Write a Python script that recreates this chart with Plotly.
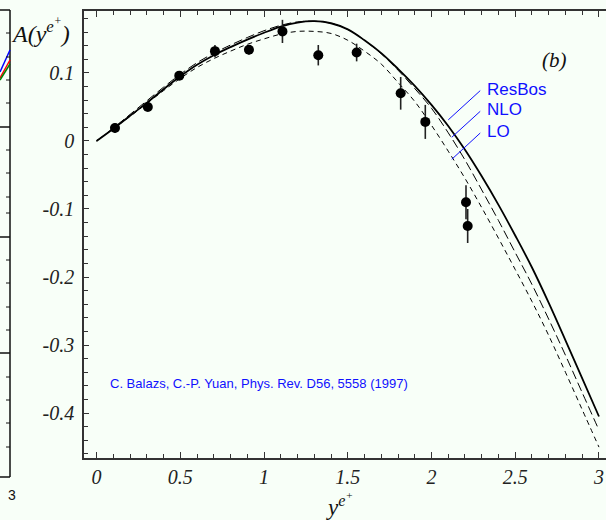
import plotly.graph_objects as go

# ---- data ----
y_grid = [0.0, 0.1, 0.2, 0.3, 0.4, 0.5, 0.6, 0.7, 0.8, 0.9, 1.0,
          1.1, 1.2, 1.3, 1.4, 1.5, 1.6, 1.7, 1.8, 1.9, 2.0,
          2.1, 2.2, 2.3, 2.4, 2.5, 2.6, 2.7, 2.8, 2.9, 3.0]

resbos = [0.000, 0.018, 0.037, 0.056, 0.076, 0.095, 0.112, 0.126, 0.138, 0.149, 0.159,
          0.168, 0.174, 0.176, 0.173, 0.164, 0.148, 0.129, 0.106, 0.081, 0.053,
          0.022, -0.013, -0.052, -0.094, -0.139, -0.186, -0.238, -0.293, -0.349, -0.405]

nlo = [0.000, 0.019, 0.039, 0.059, 0.079, 0.098, 0.115, 0.129, 0.141, 0.152, 0.162,
       0.170, 0.175, 0.176, 0.173, 0.164, 0.148, 0.128, 0.104, 0.077, 0.048,
       0.012, -0.028, -0.072, -0.117, -0.164, -0.211, -0.262, -0.315, -0.370, -0.425]

lo = [0.000, 0.018, 0.036, 0.055, 0.074, 0.092, 0.108, 0.121, 0.132, 0.142, 0.150,
      0.157, 0.161, 0.161, 0.158, 0.148, 0.132, 0.113, 0.086, 0.058, 0.023,
      -0.015, -0.055, -0.098, -0.143, -0.189, -0.236, -0.286, -0.340, -0.395, -0.450]

# CDF data points
data_y = [0.110, 0.306, 0.494, 0.707, 0.910, 1.110, 1.324, 1.553, 1.816, 1.963, 2.206, 2.216]
data_a = [0.019, 0.050, 0.096, 0.132, 0.134, 0.161, 0.126, 0.130, 0.070, 0.028, -0.090, -0.125]
data_err = [0.007, 0.006, 0.006, 0.009, 0.007, 0.017, 0.015, 0.013, 0.024, 0.025, 0.025, 0.025]

x_ticks = [0, 0.5, 1, 1.5, 2, 2.5, 3]
x_ticktext = ["0", "0.5", "1", "1.5", "2", "2.5", "3"]
y_ticks = [0.1, 0, -0.1, -0.2, -0.3, -0.4]
y_ticktext = ["0.1", "0", "-0.1", "-0.2", "-0.3", "-0.4"]

BG = "#f8fff8"
SERIF = "Liberation Serif, Times New Roman, serif"
SANS = "Liberation Sans, Arial, sans-serif"
BLUE = "#1010ff"

fig = go.Figure()

fig.add_trace(go.Scatter(x=y_grid, y=lo, mode="lines", line_shape="spline",
                         line=dict(color="black", width=1, dash="5px,4px"), name="LO"))
fig.add_trace(go.Scatter(x=y_grid, y=nlo, mode="lines", line_shape="spline",
                         line=dict(color="black", width=1, dash="9px,4px"), name="NLO"))
fig.add_trace(go.Scatter(x=y_grid, y=resbos, mode="lines", line_shape="spline",
                         line=dict(color="black", width=1.8), name="ResBos"))
fig.add_trace(go.Scatter(
    x=data_y, y=data_a, mode="markers",
    marker=dict(color="black", size=10),
    error_y=dict(type="data", array=data_err, color="#222", thickness=1.6, width=0),
    name="CDF"))

axis_common = dict(showgrid=False, zeroline=False, showline=True, linecolor="#333",
                   linewidth=1.5, ticks="inside", tickcolor="#333",
                   tickfont=dict(family=SERIF, size=20, color="#222", style="italic"))

fig.update_xaxes(range=[-0.075, 3.042], tickvals=x_ticks, ticktext=x_ticktext,
                 ticklen=6, mirror="allticks",
                 minor=dict(dtick=0.1, ticks="inside", ticklen=4, tickcolor="#333"),
                 **axis_common)
fig.update_yaxes(range=[-0.466, 0.191], tickvals=y_ticks, ticktext=y_ticktext,
                 ticklen=5, ticklabelstandoff=4,
                 minor=dict(dtick=0.02, ticks="inside", ticklen=4, tickcolor="#333"),
                 **axis_common)

# labels with leader lines to the curves
labels = [("ResBos", 2.300, 0.076, 2.100, 0.031),
          ("NLO", 2.300, 0.0456, 2.121, 0.0054),
          ("LO", 2.300, 0.0137, 2.121, -0.027)]
for txt, tx, ty, hx, hy in labels:
    fig.add_annotation(x=hx, y=hy, ax=tx, ay=ty, axref="x", ayref="y",
                       text="", showarrow=True, arrowhead=0, arrowwidth=1, arrowcolor=BLUE)
    fig.add_annotation(x=tx + 0.02, y=ty, text=txt, showarrow=False, xanchor="left",
                       yanchor="middle", font=dict(family=SANS, size=17, color=BLUE))

fig.add_annotation(x=2.737, y=0.119, text="(b)", showarrow=False,
                   font=dict(family=SERIF, size=21, color="#111", style="italic"))
fig.add_annotation(x=0.069, y=-0.356, xanchor="left", showarrow=False,
                   text="C. Balazs, C.-P. Yuan, Phys. Rev. D56, 5558 (1997)",
                   font=dict(family=SANS, size=13, color=BLUE))

# axis titles
fig.add_annotation(xref="paper", yref="paper", x=-0.143, y=0.955, xanchor="left",
                   yanchor="middle", showarrow=False,
                   text="A(y<sup>e<sup>+</sup></sup>)",
                   font=dict(family=SERIF, size=24, color="#111", style="italic"))
fig.add_annotation(xref="paper", yref="paper", x=0.49, y=-0.105, showarrow=False,
                   yanchor="middle", text="y<sup>e<sup>+</sup></sup>",
                   font=dict(family=SERIF, size=23, color="#111", style="italic"))

# remnants of the neighbouring panel on the left edge
def px_x(p):
    return (p - 84) / 522

def px_y(p):
    return (458 - p) / 447

left_shapes = [
    (10, 10, 10, 477, "#111"),
    (0, 10, 10, 10, "#111"), (0, 127, 10, 127, "#111"), (0, 237, 10, 237, "#111"),
    (0, 353, 10, 353, "#111"), (0, 477, 10, 477, "#111"),
    (0, 72, 10, 50, "blue"), (0, 78, 10, 60, "red"), (0, 80, 10, 64, "green"),
]
for x0, y0, x1, y1, c in left_shapes:
    fig.add_shape(type="line", xref="paper", yref="paper", x0=px_x(x0), y0=px_y(y0),
                  x1=px_x(x1), y1=px_y(y1), line=dict(color=c, width=1.5))
for tick_y in [33, 57, 80, 103, 150, 173, 197, 213, 260, 283, 307, 330, 377, 400, 423, 447]:
    fig.add_shape(type="line", xref="paper", yref="paper", x0=px_x(6), y0=px_y(tick_y),
                  x1=px_x(10), y1=px_y(tick_y), line=dict(color="#111", width=1))
fig.add_annotation(xref="paper", yref="paper", x=px_x(10), y=px_y(491), text="3",
                   showarrow=False, xshift=-4, yshift=-14,
                   font=dict(family=SANS, size=14, color="#111"))

fig.update_layout(
    width=606, height=520,
    margin=dict(l=84, r=0, t=11, b=62),
    paper_bgcolor=BG, plot_bgcolor=BG,
    showlegend=False,
)

# drop the browser's default body margin so the figure sits at the window corner
fig.write_html("out.html", config={"displayModeBar": False},
               post_script="document.body.style.margin='0';")
